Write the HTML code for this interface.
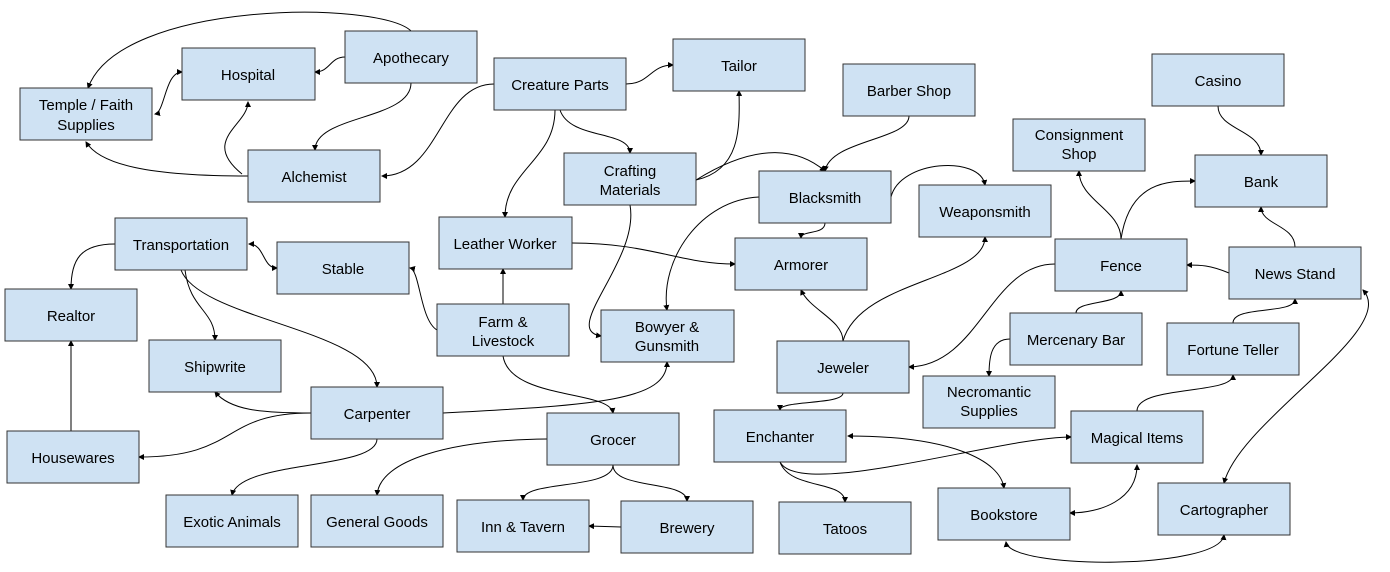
<!DOCTYPE html>
<html><head><meta charset="utf-8"><style>
html,body{margin:0;padding:0;background:#fff;}
svg{display:block;}
rect{fill:#cfe2f3;stroke:#333;stroke-width:1;}
text{font-family:"Liberation Sans",Arial,sans-serif;font-size:15px;fill:#000;text-anchor:middle;}
path{fill:none;stroke:#000;stroke-width:1;}
</style></head><body>
<svg width="1390" height="572" viewBox="0 0 1390 572" xmlns="http://www.w3.org/2000/svg">
<defs><marker id="a" markerWidth="6" markerHeight="6" refX="5" refY="3" orient="auto-start-reverse" markerUnits="userSpaceOnUse"><path d="M0,0 L6,3 L0,6 z" style="fill:#000;stroke:none"/></marker></defs>
<g marker-end="url(#a)">
<path d="M411,31 C380,0 120,0 88,88"/>
<path d="M345,57 C330,57 330,72 315,72"/>
<path d="M411,83 C411,120 315,115 315,150"/>
<path d="M182,72 C165,72 165,112 155,114" marker-start="url(#a)"/>
<path d="M248,176 C150,176 100,165 86,142"/>
<path d="M242,174 C200,140 248,125 248,102"/>
<path d="M494,84 C440,84 440,176 382,176"/>
<path d="M626,84 C650,84 650,65 673,65"/>
<path d="M555,110 C555,160 505,170 505,217"/>
<path d="M560,110 C570,140 630,130 630,153"/>
<path d="M696,180 C740,170 740,130 739,91"/>
<path d="M696,180 C760,140 800,150 825,171"/>
<path d="M909,116 C909,140 830,140 825,171"/>
<path d="M630,205 C640,260 560,330 601,336"/>
<path d="M891,197 C900,160 980,155 985,185"/>
<path d="M825,223 C825,235 801,230 801,238"/>
<path d="M759,197 C700,200 660,260 667,310"/>
<path d="M572,243 C650,243 680,264 735,264"/>
<path d="M503,304 L503,269"/>
<path d="M437,330 C420,320 420,270 410,268"/>
<path d="M503,356 C510,400 610,390 613,413"/>
<path d="M249,244 C265,244 262,268 277,268" marker-start="url(#a)"/>
<path d="M115,244 C80,244 71,260 71,289"/>
<path d="M185,270 C190,310 215,310 215,340"/>
<path d="M181,270 C200,320 377,330 377,387"/>
<path d="M311,413 C260,413 230,410 215,392"/>
<path d="M311,413 C220,413 240,457 139,457"/>
<path d="M443,413 C600,405 667,400 667,362"/>
<path d="M377,439 C377,470 240,460 232,495"/>
<path d="M71,431 L71,341"/>
<path d="M843,341 C843,320 810,310 801,290"/>
<path d="M843,341 C860,280 985,280 985,237"/>
<path d="M1055,264 C990,264 980,365 909,367"/>
<path d="M843,393 C843,405 780,400 780,410" marker-end=""/>
<path d="M1121,239 C1121,210 1079,200 1079,171"/>
<path d="M1121,239 C1130,180 1170,181 1195,181"/>
<path d="M1218,106 C1218,130 1261,130 1261,155"/>
<path d="M1229,273 C1210,265 1200,265 1187,265"/>
<path d="M1295,247 C1295,225 1261,225 1261,207"/>
<path d="M1076,313 C1076,300 1121,305 1121,291"/>
<path d="M1010,339 C990,339 989,360 989,376"/>
<path d="M1233,323 C1233,305 1295,315 1295,299"/>
<path d="M1137,411 C1137,385 1233,395 1233,375"/>
<path d="M1137,465 C1137,500 1100,513 1070,513" marker-start="url(#a)"/>
<path d="M848,436 C950,436 1000,460 1004,488" marker-start="url(#a)"/>
<path d="M780,462 C800,500 1000,437 1071,437"/>
<path d="M780,462 C790,490 845,480 845,502"/>
<path d="M1006,542 C1010,570 1220,570 1224,535" marker-start="url(#a)"/>
<path d="M1363,290 C1400,330 1240,420 1224,483" marker-start="url(#a)"/>
<path d="M547,439 C450,440 380,460 377,495"/>
<path d="M613,465 C613,490 523,480 523,500"/>
<path d="M613,465 C613,490 687,480 687,501"/>
<path d="M621,527 L589,526"/>
</g>
<g>
<rect x="20" y="88" width="132" height="52"/><text x="86" y="110">Temple / Faith</text><text x="86" y="130">Supplies</text>
<rect x="182" y="48" width="133" height="52"/><text x="248" y="80">Hospital</text>
<rect x="345" y="31" width="132" height="52"/><text x="411" y="63">Apothecary</text>
<rect x="248" y="150" width="132" height="52"/><text x="314" y="182">Alchemist</text>
<rect x="494" y="58" width="132" height="52"/><text x="560" y="90">Creature Parts</text>
<rect x="673" y="39" width="132" height="52"/><text x="739" y="71">Tailor</text>
<rect x="843" y="64" width="132" height="52"/><text x="909" y="96">Barber Shop</text>
<rect x="1152" y="54" width="132" height="52"/><text x="1218" y="86">Casino</text>
<rect x="1013" y="119" width="132" height="52"/><text x="1079" y="140">Consignment</text><text x="1079" y="159">Shop</text>
<rect x="1195" y="155" width="132" height="52"/><text x="1261" y="187">Bank</text>
<rect x="564" y="153" width="132" height="52"/><text x="630" y="176">Crafting</text><text x="630" y="195">Materials</text>
<rect x="759" y="171" width="132" height="52"/><text x="825" y="203">Blacksmith</text>
<rect x="919" y="185" width="132" height="52"/><text x="985" y="217">Weaponsmith</text>
<rect x="115" y="218" width="132" height="52"/><text x="181" y="250">Transportation</text>
<rect x="277" y="242" width="132" height="52"/><text x="343" y="274">Stable</text>
<rect x="439" y="217" width="133" height="52"/><text x="505" y="249">Leather Worker</text>
<rect x="735" y="238" width="132" height="52"/><text x="801" y="270">Armorer</text>
<rect x="1055" y="239" width="132" height="52"/><text x="1121" y="271">Fence</text>
<rect x="1229" y="247" width="132" height="52"/><text x="1295" y="279">News Stand</text>
<rect x="5" y="289" width="132" height="52"/><text x="71" y="321">Realtor</text>
<rect x="437" y="304" width="132" height="52"/><text x="503" y="327">Farm &amp;</text><text x="503" y="346">Livestock</text>
<rect x="601" y="310" width="133" height="52"/><text x="667" y="332">Bowyer &amp;</text><text x="667" y="351">Gunsmith</text>
<rect x="1010" y="313" width="132" height="52"/><text x="1076" y="345">Mercenary Bar</text>
<rect x="1167" y="323" width="132" height="52"/><text x="1233" y="355">Fortune Teller</text>
<rect x="149" y="340" width="132" height="52"/><text x="215" y="372">Shipwrite</text>
<rect x="777" y="341" width="132" height="52"/><text x="843" y="373">Jeweler</text>
<rect x="923" y="376" width="132" height="52"/><text x="989" y="397">Necromantic</text><text x="989" y="416">Supplies</text>
<rect x="311" y="387" width="132" height="52"/><text x="377" y="419">Carpenter</text>
<rect x="7" y="431" width="132" height="52"/><text x="73" y="463">Housewares</text>
<rect x="547" y="413" width="132" height="52"/><text x="613" y="445">Grocer</text>
<rect x="714" y="410" width="132" height="52"/><text x="780" y="442">Enchanter</text>
<rect x="1071" y="411" width="132" height="52"/><text x="1137" y="443">Magical Items</text>
<rect x="166" y="495" width="132" height="52"/><text x="232" y="527">Exotic Animals</text>
<rect x="311" y="495" width="132" height="52"/><text x="377" y="527">General Goods</text>
<rect x="457" y="500" width="132" height="52"/><text x="523" y="532">Inn &amp; Tavern</text>
<rect x="621" y="501" width="132" height="52"/><text x="687" y="533">Brewery</text>
<rect x="779" y="502" width="132" height="52"/><text x="845" y="534">Tatoos</text>
<rect x="938" y="488" width="132" height="52"/><text x="1004" y="520">Bookstore</text>
<rect x="1158" y="483" width="132" height="52"/><text x="1224" y="515">Cartographer</text>
</g>
</svg>
</body></html>
